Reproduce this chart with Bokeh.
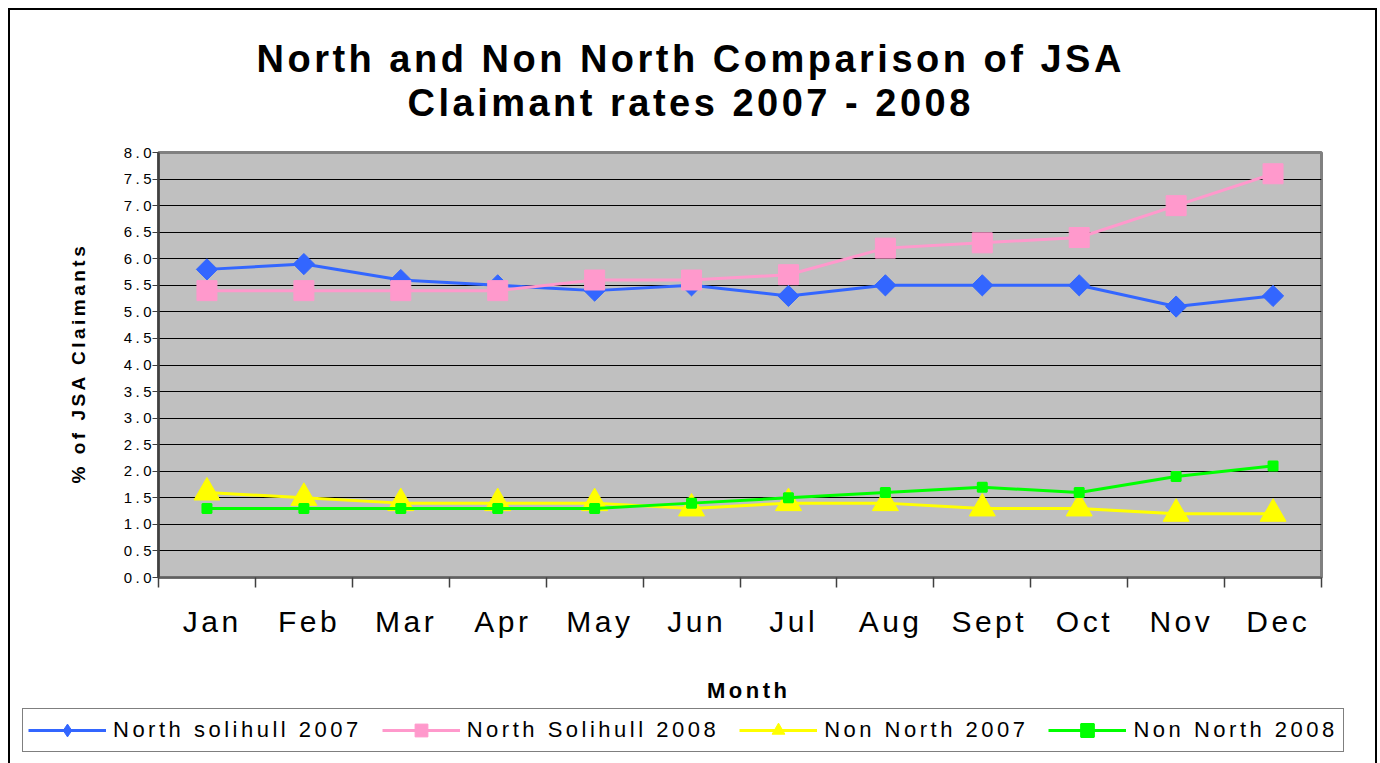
import math
from bokeh.plotting import figure
from bokeh.models import (FixedTicker, SingleIntervalTicker, NumeralTickFormatter, LinearAxis,
                          Legend, LegendItem, Title, Range1d)
from bokeh.embed import file_html
from bokeh.resources import INLINE

months = ["Jan", "Feb", "Mar", "Apr", "May", "Jun", "Jul", "Aug", "Sept", "Oct", "Nov", "Dec"]
north_2007 = [5.8, 5.9, 5.6, 5.5, 5.4, 5.5, 5.3, 5.5, 5.5, 5.5, 5.1, 5.3]
north_2008 = [5.4, 5.4, 5.4, 5.4, 5.6, 5.6, 5.7, 6.2, 6.3, 6.4, 7.0, 7.6]
non_north_2007 = [1.6, 1.5, 1.4, 1.4, 1.4, 1.3, 1.4, 1.4, 1.3, 1.3, 1.2, 1.2]
non_north_2008 = [1.3, 1.3, 1.3, 1.3, 1.3, 1.4, 1.5, 1.6, 1.7, 1.6, 1.9, 2.1]
series_names = ["North solihull 2007", "North Solihull 2008", "Non North 2007", "Non North 2008"]
title_lines = ["North and Non North Comparison of JSA", "Claimant rates 2007 - 2008"]
y_label = "% of JSA Claimants"
x_label = "Month"

FONT = "Liberation Sans"
x = list(range(1, len(months) + 1))
series = [north_2007, north_2008, non_north_2007, non_north_2008]
colors = ["#3366FF", "#FF99CC", "#FFFF00", "#00FF00"]

LINE = "linear-gradient(#000,#000)"

p = figure(frame_width=1163, frame_height=425,
           x_range=Range1d(0.5, len(months) + 0.5), y_range=Range1d(0, 8),
           output_backend="svg", toolbar_location=None,
           min_border_left=158, min_border_right=59, min_border_top=152, min_border_bottom=123)
p.styles = {
    "letter-spacing": "3.5px",
    "background": (f"{LINE} left 8px top 8px / 2px 100% no-repeat, "
                   f"{LINE} left 8px top 8px / calc(100% - 11px) 2px no-repeat, "
                   f"{LINE} right 3px top 8px / 2px 100% no-repeat, #fff"),
}
p.background_fill_color = "#C0C0C0"
p.border_fill_color = None
p.outline_line_color = "#808080"
p.outline_line_width = 3

# y axis
yticker = SingleIntervalTicker(interval=0.5, num_minor_ticks=0)
p.yaxis.ticker = yticker
p.yaxis.formatter = NumeralTickFormatter(format="0.0")
p.yaxis.axis_line_color = "#404040"
p.yaxis.axis_line_width = 2.5
p.yaxis.major_tick_out = 6
p.yaxis.major_tick_in = 0
p.yaxis.major_tick_line_color = "#404040"
p.yaxis.minor_tick_line_color = None
p.yaxis.major_label_text_font = FONT
p.yaxis.major_label_text_font_size = "15px"
p.yaxis.major_label_text_color = "black"
p.yaxis.major_label_standoff = 8

# x axis
p.xaxis.ticker = FixedTicker(ticks=x, minor_ticks=[i + 0.5 for i in range(len(months) + 1)])
p.xaxis.major_label_overrides = {i: m for i, m in zip(x, months)}
p.xaxis.axis_line_color = "#606060"
p.xaxis.axis_line_width = 2
p.xaxis.major_tick_out = 0
p.xaxis.major_tick_in = 0
p.xaxis.minor_tick_out = 10
p.xaxis.minor_tick_in = 0
p.xaxis.minor_tick_line_color = "#404040"
p.xaxis.minor_tick_line_width = 1.5
p.xaxis.major_label_text_font = FONT
p.xaxis.major_label_text_font_size = "30px"
p.xaxis.major_label_text_color = "black"
p.xaxis.major_label_standoff = 17
p.xaxis.axis_label = x_label
p.xaxis.axis_label_text_font = FONT
p.xaxis.axis_label_text_font_style = "bold"
p.xaxis.axis_label_text_font_size = "22px"
p.xaxis.axis_label_text_color = "black"
p.xaxis.axis_label_standoff = 37

p.xgrid.visible = False
p.ygrid.ticker = yticker
p.ygrid.grid_line_color = "black"
p.ygrid.grid_line_width = 1

# y axis title (rotated, placed as a left-side title so it can be positioned)
p.add_layout(Title(text=y_label, align="left", offset=94, standoff=64,
                   text_font=FONT, text_font_style="bold",
                   text_font_size="19px", text_color="black"), "left")

# series
markers = [dict(marker="square", angle=math.pi / 4, size=15),
           dict(marker="square", size=20),
           dict(marker="triangle", size=26),
           dict(marker="square_x", size=9, line_width=2)]
for ys, c, mk in zip(series, colors, markers):
    p.line(x, ys, line_color=c, line_width=3)
    p.scatter(x, ys, fill_color=c, line_color=c, **mk)

# title: an invisible spacer axis between frame and title, then two centred lines
spacer = LinearAxis(ticker=FixedTicker(ticks=[0.5]), axis_line_color=None,
                    major_tick_line_color="white", major_tick_line_alpha=0.0,
                    minor_tick_line_color=None,
                    major_tick_out=29, major_tick_in=0, major_label_standoff=0,
                    major_label_overrides={0.5: ""},
                    major_label_text_font_size="1px", major_label_text_alpha=0.0)
p.add_layout(spacer, "above")
for txt, off in [(title_lines[1], 249), (title_lines[0], 98)]:
    p.add_layout(Title(text=txt, align="left", offset=off, standoff=0,
                       text_font=FONT, text_font_style="bold",
                       text_font_size="38px", text_color="black"), "above")

# legend strip (separate root under the chart)
p2 = figure(width=1380, height=63, x_range=Range1d(100, 101), y_range=Range1d(100, 101),
            output_backend="svg", toolbar_location=None,
            x_axis_location=None, y_axis_location=None,
            min_border=0, min_border_left=0, min_border_right=0,
            min_border_top=0, min_border_bottom=0)
p2.styles = {
    "letter-spacing": "3.5px",
    "background": (f"{LINE} left 8px top 0 / 2px 100% no-repeat, "
                   f"{LINE} right 3px top 0 / 2px 100% no-repeat, #fff"),
}
p2.background_fill_color = None
p2.border_fill_color = None
p2.outline_line_color = None
p2.grid.visible = False

legend_markers = [dict(marker="diamond", size=20),
                  dict(marker="square", size=20),
                  dict(marker="triangle", size=26),
                  dict(marker="square_x", size=9, line_width=2)]
items = []
for name, ys, c, mk in zip(series_names, series, colors, legend_markers):
    lr = p2.line(x, ys, line_color=c, line_width=3)
    sr = p2.scatter(x, ys, fill_color=c, line_color=c, **mk)
    items.append(LegendItem(label=name, renderers=[lr, sr]))

legend = Legend(items=items, orientation="horizontal", location=(22, 16),
                margin=0, padding=5, spacing=20, glyph_width=78, glyph_height=32,
                label_standoff=7, label_width=20,
                label_text_font=FONT, label_text_font_size="22px",
                label_text_color="black",
                border_line_color="black", border_line_width=1,
                background_fill_color="white", background_fill_alpha=1)
p2.add_layout(legend, "center")

open("out.html", "w").write(file_html([p, p2], INLINE))
